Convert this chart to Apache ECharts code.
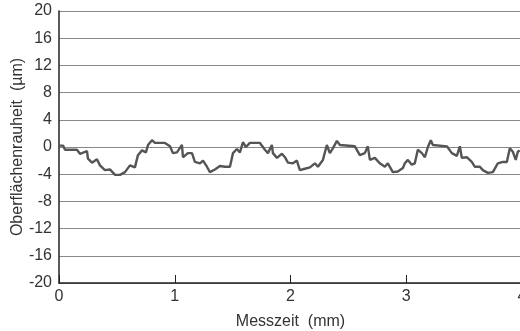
<!DOCTYPE html>
<html><head><meta charset="utf-8">
<script src="https://cdn.jsdelivr.net/npm/echarts@6/dist/echarts.min.js"></script>
<style>html,body{margin:0;padding:0;background:#fff}#c{width:520px;height:331px}</style>
</head><body><div id="c"></div>
<script>
const xTitle = 'Messzeit  (mm)';
const yTitle = 'Oberflächenrauheit  (µm)';
const xTicks = [0, 1, 2, 3, 4];
const yTicks = [-20, -16, -12, -8, -4, 0, 4, 8, 12, 16, 20];
const positionMm = [0,0.035,0.052,0.155,0.181,0.242,0.250,0.285,0.328,0.354,0.397,0.440,0.484,0.527,0.570,0.613,0.656,0.682,0.717,0.751,0.769,0.803,0.829,0.915,0.959,0.984,1.019,1.062,1.071,1.114,1.149,1.174,1.218,1.244,1.278,1.304,1.347,1.390,1.434,1.477,1.503,1.537,1.563,1.589,1.615,1.649,1.736,1.779,1.805,1.839,1.848,1.883,1.926,1.952,1.978,2.021,2.055,2.081,2.124,2.168,2.211,2.237,2.280,2.314,2.340,2.366,2.401,2.427,2.556,2.599,2.642,2.668,2.686,2.729,2.772,2.815,2.841,2.884,2.927,2.971,2.988,3.014,3.048,3.074,3.100,3.135,3.161,3.187,3.212,3.230,3.351,3.394,3.437,3.463,3.480,3.523,3.566,3.592,3.636,3.661,3.705,3.748,3.791,3.834,3.869,3.895,3.921,3.946,3.964,3.98];
const roughnessUm = [0.2,0.2,-0.4,-0.4,-1.0,-0.6,-1.7,-2.3,-1.8,-2.7,-3.4,-3.3,-4.1,-4.1,-3.7,-2.7,-3.0,-1.2,-0.5,-0.8,0.3,1.0,0.6,0.6,0.1,-0.9,-0.8,0.3,-1.5,-0.9,-0.9,-2.2,-2.4,-2.0,-2.9,-3.7,-3.3,-2.8,-2.9,-2.9,-0.9,-0.3,-0.8,0.7,0.0,0.6,0.6,-0.4,-0.9,0.3,-0.9,-1.6,-1.0,-1.5,-2.3,-2.4,-2.0,-3.4,-3.2,-3.0,-2.4,-2.9,-1.9,0.3,-0.9,-0.2,0.9,0.3,0.1,-1.2,-0.9,0.1,-1.9,-1.6,-2.4,-2.9,-2.4,-3.7,-3.6,-3.1,-2.4,-1.9,-2.6,-2.4,-0.4,-0.9,-1.5,0.0,1.0,0.3,0.1,-0.9,-1.3,0.1,-1.6,-1.5,-2.2,-2.9,-2.9,-3.4,-3.8,-3.7,-2.4,-2.2,-2.2,-0.2,-0.7,-1.9,-0.7,-0.5];

const labelFont = 'Liberation Sans';
const nameFont = 'Liberation Sans';
const chart = echarts.init(document.getElementById('c'));
chart.setOption({
  animation: false,
  backgroundColor: '#fff',
  grid: { left: 59, right: -2, top: 11, bottom: 48, outerBoundsMode: 'none', containLabel: false },
  xAxis: {
    type: 'value', min: xTicks[0], max: xTicks[xTicks.length-1], interval: 1,
    name: xTitle, nameLocation: 'middle', nameGap: 31, nameMoveOverlap: false,
    nameTextStyle: { fontFamily: nameFont, fontSize: 16, color: '#333' },
    axisLine: { show: true, onZero: false, lineStyle: { color: '#222', width: 1.5 } },
    axisTick: { show: true, inside: true, length: 8, lineStyle: { color: '#222', width: 1 } },
    axisLabel: { fontFamily: labelFont, fontSize: 16, color: '#333', margin: 6, showMaxLabel: true, hideOverlap: false },
    splitLine: { show: false }
  },
  yAxis: {
    type: 'value', min: yTicks[0], max: yTicks[yTicks.length-1], interval: 4,
    name: yTitle, nameLocation: 'middle', nameGap: 33, nameMoveOverlap: false,
    nameTextStyle: { fontFamily: nameFont, fontSize: 16, color: '#333' },
    axisLine: { show: true, onZero: false, lineStyle: { color: '#222', width: 1.5 } },
    axisTick: { show: false },
    axisLabel: { fontFamily: labelFont, fontSize: 16, color: '#333', margin: 7 },
    splitLine: { show: true, lineStyle: { color: '#888', width: 1 } }
  },
  series: [{
    type: 'line',
    data: positionMm.map((x, i) => [x, roughnessUm[i]]),
    showSymbol: false,
    lineStyle: { color: '#555', width: 2.4 },
    itemStyle: { color: '#555' }
  }]
});
</script></body></html>
